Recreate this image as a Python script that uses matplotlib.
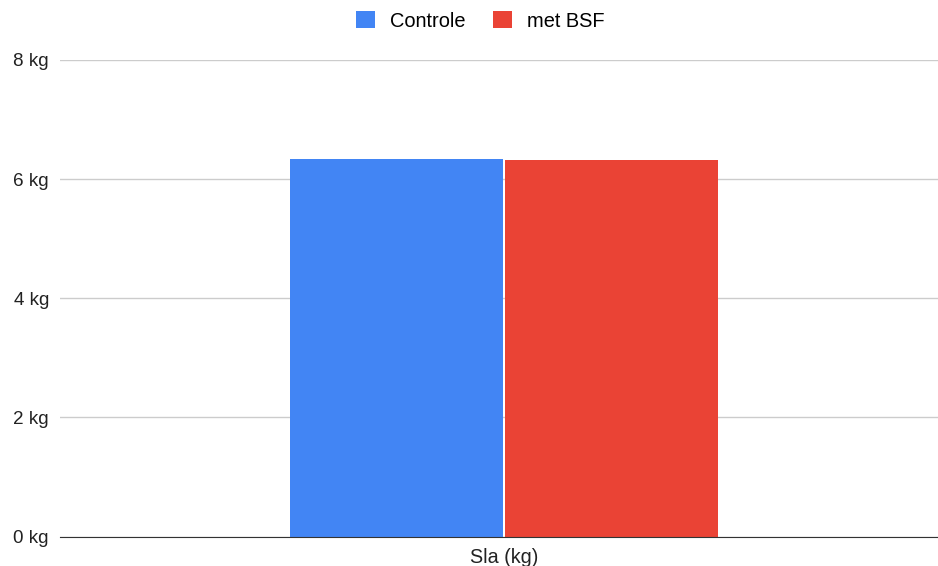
import matplotlib
matplotlib.use('Agg')
import matplotlib.pyplot as plt

categories = ['Sla (kg)']
series = ['Controle', 'met BSF']
values = [[6.34], [6.32]]
colors = ['#4285f4', '#ea4335']
yticks = [0, 2, 4, 6, 8]

plt.rcParams['font.family'] = ['Liberation Sans', 'DejaVu Sans']

fig = plt.figure(figsize=(9.38, 5.66), dpi=100)
ax = fig.add_axes([0.064, 0.052, 0.936, 0.842])

width = 0.2426
gap = 0.002
for i, (name, vals) in enumerate(zip(series, values)):
    off = (i - 0.5) * (width + gap)
    ax.bar([k + off for k in range(len(categories))], vals, width=width,
           color=colors[i], label=name, zorder=3)

ax.set_xlim(-0.506, 0.494)
ax.set_ylim(0, 8)
ax.set_yticks(yticks)
ax.set_yticklabels([f'{t} kg' for t in yticks], fontsize=13.6, color='#222222')
ax.set_xticks(range(len(categories)))
ax.set_xticklabels(categories, fontsize=14.2, color='#222222')
ax.tick_params(axis='x', length=0, pad=8)
ax.tick_params(axis='y', length=0, pad=8)
ax.grid(axis='y', color='#cccccc', linewidth=1, zorder=0)
for s in ['top', 'right', 'left']:
    ax.spines[s].set_visible(False)
ax.spines['bottom'].set_color('#333333')
ax.spines['bottom'].set_zorder(4)

leg = fig.legend(loc='upper center', bbox_to_anchor=(0.512, 1.012), ncol=2, frameon=False,
                 fontsize=14.4, handlelength=0.95, handleheight=0.95, columnspacing=1.35,
                 handletextpad=0.75)

fig.savefig('out.png', dpi=100)
